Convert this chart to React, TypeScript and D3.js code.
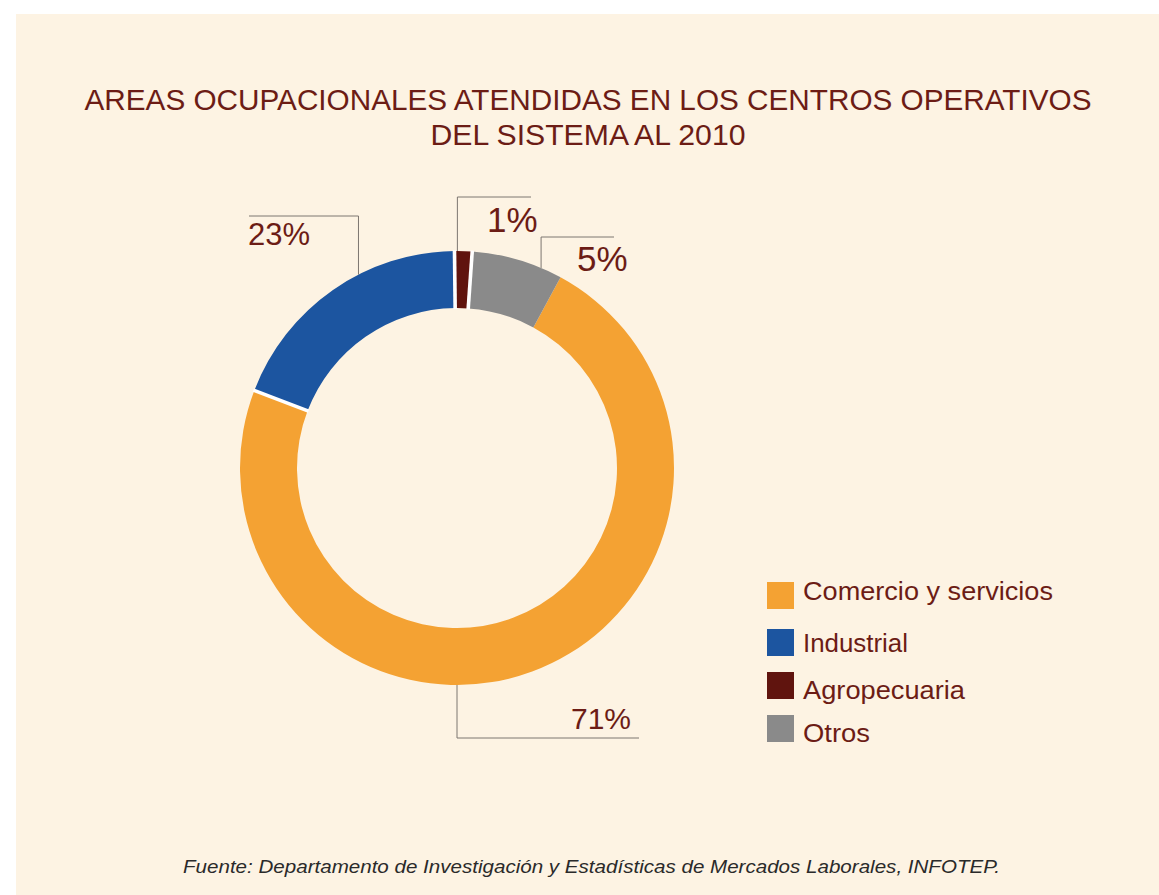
import React from "react";
import * as d3 from "d3";

const categories = ["Comercio y servicios", "Industrial", "Agropecuaria", "Otros"];
const shares = [72.9, 19.0, 1.3, 6.8];
const percentLabels = ["71%", "23%", "1%", "5%"];
const sliceColors = ["#f4a233", "#1c55a0", "#60140e", "#8a8a8a"];
const titleLines = [
  "AREAS OCUPACIONALES ATENDIDAS EN LOS CENTROS OPERATIVOS",
  "DEL SISTEMA AL 2010",
];
const footnote =
  "Fuente: Departamento de Investigación y Estadísticas de Mercados Laborales, INFOTEP.";

// layout (not data)
const W = 1159;
const H = 895;
const CX = 457;
const CY = 468;
const R_OUT = 217;
const R_IN = 160;
const START_DEG = 28.5;
const TEXT = "#6c1c15";
const LEADER = "#7d7670";
const labelLayout = [
  { angle: 180, elbowY: 738, endX: 639, tx: 631, ty: 729, anchor: "end", size: 30 },
  { angle: 333, elbowY: 216, endX: 249, tx: 248, ty: 245, anchor: "start", size: 31 },
  { angle: 0.1, elbowY: 197, endX: 531, tx: 487, ty: 232, anchor: "start", size: 35 },
  { angle: 22.8, elbowY: 237, endX: 614, tx: 577, ty: 271, anchor: "start", size: 35 },
];
const legendLayout = [
  { y: 582, ty: 600, w: 250 },
  { y: 629, ty: 652, w: 105 },
  { y: 672, ty: 699, w: 162 },
  { y: 715, ty: 742, w: 67 },
];
const gapAfter = [true, true, true, false];

const rad = (d: number) => (d * Math.PI) / 180;

export default function App() {
  const pie = d3
    .pie<number>()
    .sort(null)
    .value((d) => d)
    .startAngle(rad(START_DEG))
    .endAngle(rad(START_DEG) + 2 * Math.PI);
  const arcs = pie(shares);
  const arc = d3.arc<d3.PieArcDatum<number>>().innerRadius(R_IN).outerRadius(R_OUT);

  const font = "'Liberation Sans', Arial, Helvetica, sans-serif";

  return (
    <svg
      width={W}
      height={H}
      style={{ position: "absolute", left: 0, top: 0, background: "#ffffff" }}
      fontFamily={font}
    >
      <rect x={16} y={14} width={W - 16} height={H - 14} fill="#fdf3e3" />
      <text
        x={588}
        y={110}
        textAnchor="middle"
        fontSize={29}
        fill={TEXT}
        textLength={1007}
        lengthAdjust="spacingAndGlyphs"
      >
        {titleLines[0]}
      </text>
      <text
        x={588}
        y={145}
        textAnchor="middle"
        fontSize={29}
        fill={TEXT}
        textLength={315}
        lengthAdjust="spacingAndGlyphs"
      >
        {titleLines[1]}
      </text>

      <g transform={`translate(${CX},${CY})`}>
        {arcs.map((a, i) => (
          <path key={i} d={arc(a) || ""} fill={sliceColors[i]} />
        ))}
        {arcs.map((a, i) =>
          gapAfter[i] ? (
            <line
              key={"g" + i}
              x1={(R_IN - 1) * Math.sin(a.endAngle)}
              y1={-(R_IN - 1) * Math.cos(a.endAngle)}
              x2={(R_OUT + 1) * Math.sin(a.endAngle)}
              y2={-(R_OUT + 1) * Math.cos(a.endAngle)}
              stroke="#ffffff"
              strokeWidth={3.6}
            />
          ) : null
        )}
      </g>

      {labelLayout.map((l, i) => {
        const px = CX + R_OUT * Math.sin(rad(l.angle));
        const py = CY - R_OUT * Math.cos(rad(l.angle));
        return (
          <g key={"l" + i}>
            <polyline
              points={`${px},${py} ${px},${l.elbowY} ${l.endX},${l.elbowY}`}
              fill="none"
              stroke={LEADER}
              strokeWidth={1}
            />
            <text
              x={l.tx}
              y={l.ty}
              textAnchor={l.anchor as any}
              fontSize={l.size}
              fill={TEXT}
            >
              {percentLabels[i]}
            </text>
          </g>
        );
      })}

      {categories.map((c, i) => {
        const L = legendLayout[i];
        return (
          <g key={"k" + i}>
            <rect x={767} y={L.y} width={27} height={27} fill={sliceColors[i]} />
            <text
              x={803}
              y={L.ty}
              fontSize={25}
              fill={TEXT}
              textLength={L.w}
              lengthAdjust="spacingAndGlyphs"
            >
              {c}
            </text>
          </g>
        );
      })}

      <text
        x={183}
        y={873}
        fontSize={19}
        fontStyle="italic"
        fill="#2a2a2a"
        textLength={817}
        lengthAdjust="spacingAndGlyphs"
      >
        {footnote}
      </text>
    </svg>
  );
}
